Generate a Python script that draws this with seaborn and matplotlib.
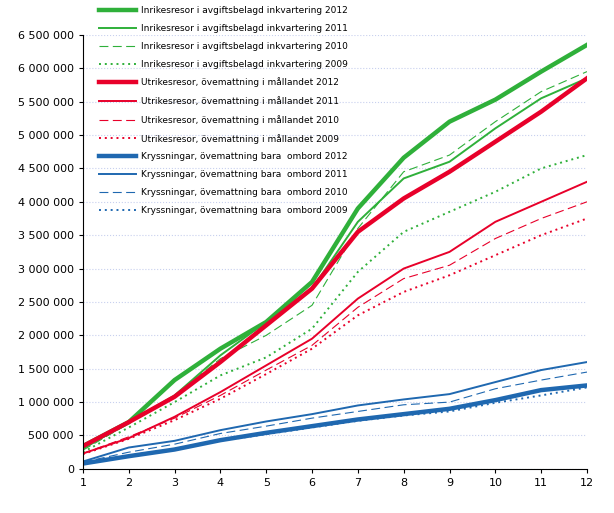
import pandas as pd
import seaborn as sns
import matplotlib.pyplot as plt
from matplotlib.ticker import FuncFormatter, MultipleLocator

# === Data ===
months = list(range(1, 13))

inrikes_2012 = [340e3, 700e3, 1330e3, 1800e3, 2200e3, 2800e3, 3900e3, 4660e3, 5200e3, 5530e3, 5950e3, 6350e3]
inrikes_2011 = [300e3, 700e3, 1100e3, 1700e3, 2200e3, 2700e3, 3700e3, 4350e3, 4600e3, 5100e3, 5550e3, 5850e3]
inrikes_2010 = [280e3, 680e3, 1100e3, 1650e3, 2000e3, 2450e3, 3600e3, 4450e3, 4700e3, 5200e3, 5650e3, 5950e3]
inrikes_2009 = [250e3, 620e3, 1000e3, 1400e3, 1670e3, 2100e3, 2950e3, 3550e3, 3850e3, 4150e3, 4500e3, 4700e3]

utrikes_2012 = [340e3, 700e3, 1080e3, 1600e3, 2150e3, 2700e3, 3550e3, 4050e3, 4450e3, 4900e3, 5350e3, 5850e3]
utrikes_2011 = [230e3, 460e3, 780e3, 1150e3, 1550e3, 1950e3, 2550e3, 3000e3, 3250e3, 3700e3, 4000e3, 4300e3]
utrikes_2010 = [230e3, 480e3, 760e3, 1100e3, 1480e3, 1850e3, 2420e3, 2850e3, 3050e3, 3450e3, 3750e3, 4000e3]
utrikes_2009 = [220e3, 450e3, 730e3, 1050e3, 1420e3, 1800e3, 2300e3, 2650e3, 2900e3, 3200e3, 3500e3, 3750e3]

kryss_2012 = [80e3, 190e3, 290e3, 430e3, 540e3, 640e3, 740e3, 820e3, 900e3, 1030e3, 1180e3, 1250e3]
kryss_2011 = [110e3, 320e3, 420e3, 580e3, 710e3, 820e3, 950e3, 1040e3, 1120e3, 1300e3, 1480e3, 1600e3]
kryss_2010 = [100e3, 250e3, 370e3, 530e3, 640e3, 760e3, 860e3, 960e3, 1000e3, 1200e3, 1330e3, 1450e3]
kryss_2009 = [80e3, 200e3, 300e3, 420e3, 520e3, 620e3, 720e3, 800e3, 860e3, 990e3, 1100e3, 1220e3]

series = [
    ("Inrikesresor i avgiftsbelagd inkvartering 2012", inrikes_2012),
    ("Inrikesresor i avgiftsbelagd inkvartering 2011", inrikes_2011),
    ("Inrikesresor i avgiftsbelagd inkvartering 2010", inrikes_2010),
    ("Inrikesresor i avgiftsbelagd inkvartering 2009", inrikes_2009),
    ("Utrikesresor, övemattning i mållandet 2012", utrikes_2012),
    ("Utrikesresor, övemattning i mållandet 2011", utrikes_2011),
    ("Utrikesresor, övemattning i mållandet 2010", utrikes_2010),
    ("Utrikesresor, övemattning i mållandet 2009", utrikes_2009),
    ("Kryssningar, övemattning bara  ombord 2012", kryss_2012),
    ("Kryssningar, övemattning bara  ombord 2011", kryss_2011),
    ("Kryssningar, övemattning bara  ombord 2010", kryss_2010),
    ("Kryssningar, övemattning bara  ombord 2009", kryss_2009),
]

# === Styles ===
colors = ["#2fb03a"] * 4 + ["#e8002a"] * 4 + ["#1f68b0"] * 4
widths = [3.2, 1.4, 0.8, 1.4] * 3
dashes = ["-", "-", (0, (8, 4)), (0, (1, 2))] * 3

fig = plt.figure(figsize=(6.14, 5.13), dpi=100)
ax = fig.add_axes([0.135, 0.086, 0.821, 0.846])

for (name, vals), c, lw, ls in zip(series, colors, widths, dashes):
    df = pd.DataFrame({"month": months, "value": vals})
    sns.lineplot(data=df, x="month", y="value", ax=ax, color=c, linewidth=lw,
                 linestyle=ls, label=name)

ax.set_xlim(1, 12)
ax.set_ylim(0, 6500000)
ax.xaxis.set_major_locator(MultipleLocator(1))
ax.yaxis.set_major_locator(MultipleLocator(500000))
ax.yaxis.set_major_formatter(FuncFormatter(lambda v, p: f"{int(v):,}".replace(",", " ")))
ax.set_xlabel("")
ax.set_ylabel("")
ax.tick_params(labelsize=8, length=3)
ax.grid(axis="y", color="#c8d0ee", linestyle=":", linewidth=0.8)
ax.set_axisbelow(True)
for s in ["top", "right"]:
    ax.spines[s].set_visible(False)

ax.legend(loc="upper left", bbox_to_anchor=(0.015, 1.085), frameon=False, fontsize=6.5,
          handlelength=4.2, labelspacing=0.98, handletextpad=0.5)

plt.savefig("out.png", dpi=100)
